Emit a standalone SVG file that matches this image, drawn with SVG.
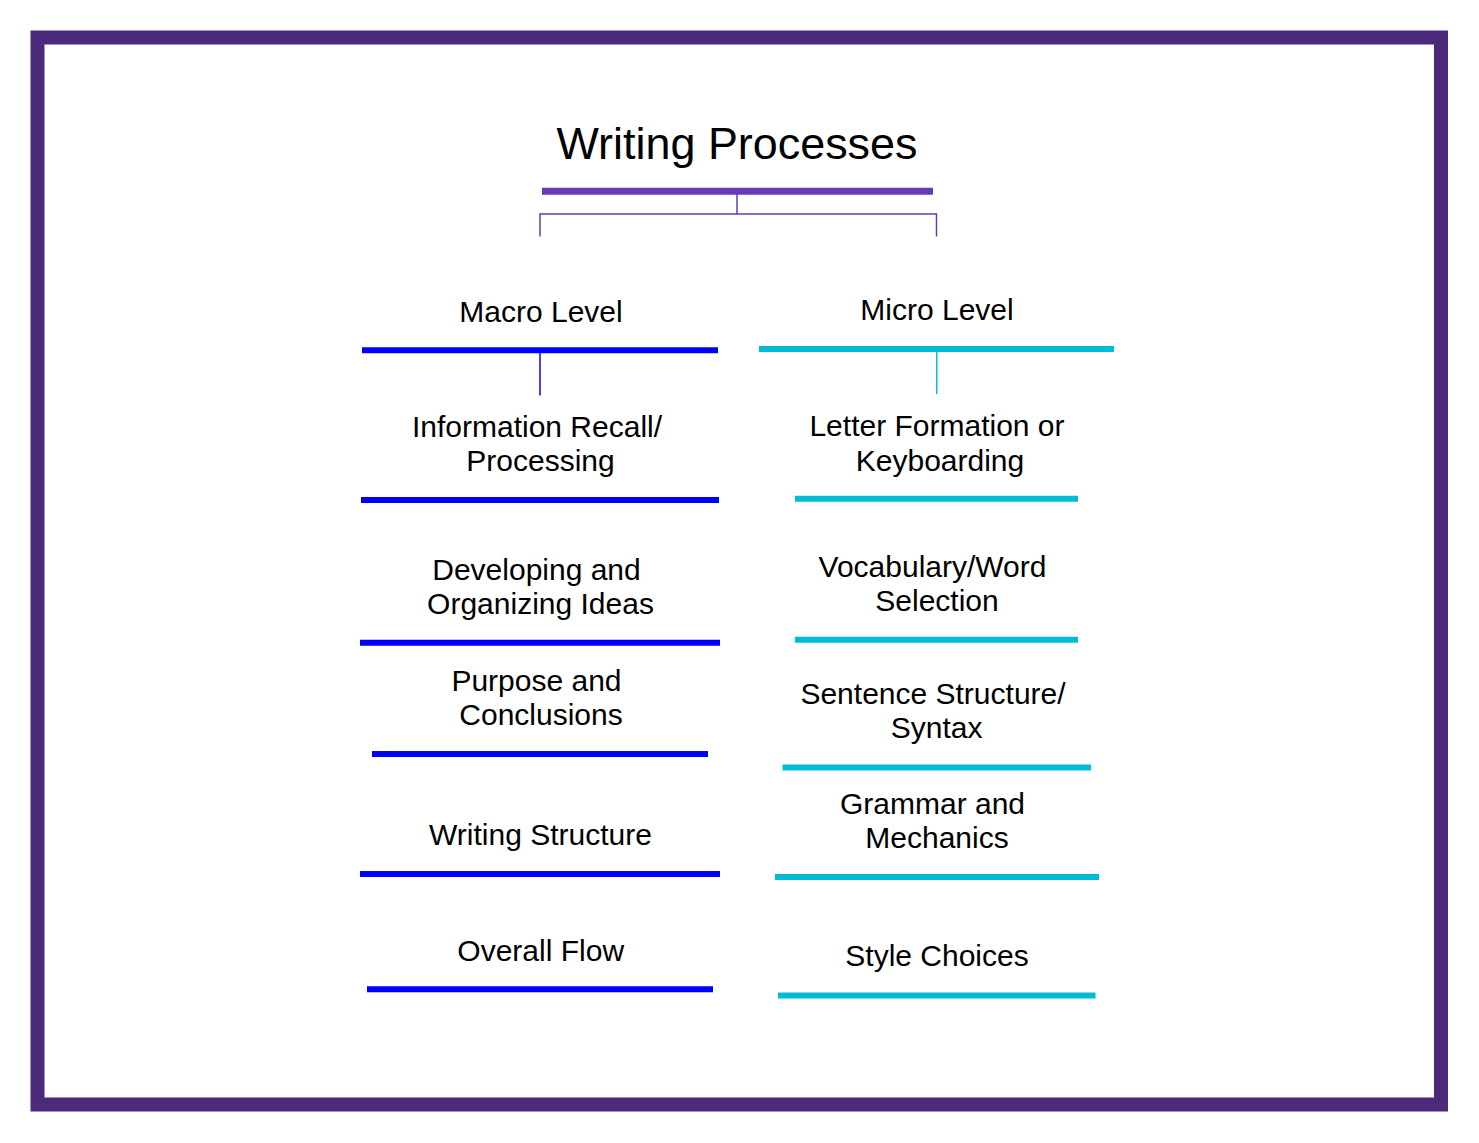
<svg xmlns="http://www.w3.org/2000/svg" width="1479" height="1143" viewBox="0 0 1479 1143">
<style>
text{font-family:"Liberation Sans",Arial,sans-serif;fill:#000;text-anchor:middle}
.t{font-size:30px}
.title{font-size:44.9px}
.bl{stroke:#0000FF;stroke-width:6}
.cy{stroke:#00BCD4;stroke-width:6}
.pu{stroke:#673AB7;stroke-width:7}
.conn line{fill:none}
</style>
<rect x="0" y="0" width="1479" height="1143" fill="#fff"/>
<rect x="37.5" y="37.5" width="1403.5" height="1067" fill="none" stroke="#4B2A7B" stroke-width="14"/>

<g id="title">
<text class="title" x="737" y="159">Writing Processes</text>
<line class="pu" x1="542" y1="191.3" x2="933" y2="191.3"/>
</g>

<g id="connectors" class="conn">
<line x1="737" y1="194" x2="737" y2="214" stroke="#673AB7" stroke-width="1.5"/>
<line x1="540" y1="214" x2="936.5" y2="214" stroke="#673AB7" stroke-width="1.5"/>
<line x1="540" y1="213.3" x2="540" y2="236.5" stroke="#673AB7" stroke-width="1.5"/>
<line x1="936.5" y1="213.3" x2="936.5" y2="236.5" stroke="#673AB7" stroke-width="1.5"/>
<line x1="540" y1="353" x2="540" y2="395.5" stroke="#0000FF" stroke-width="1.5"/>
<line x1="936.7" y1="352" x2="936.7" y2="394" stroke="#00BCD4" stroke-width="1.5"/>
</g>

<g id="macro">
<text class="t" x="541" y="322">Macro Level</text>
<line class="bl" x1="362" y1="350.3" x2="718" y2="350.3"/>
</g>
<g id="micro">
<text class="t" x="937" y="320">Micro Level</text>
<line class="cy" x1="759" y1="349" x2="1114" y2="349"/>
</g>

<g id="info-recall">
<text class="t" x="537" y="437">Information Recall/</text>
<text class="t" x="540.5" y="471">Processing</text>
<line class="bl" x1="361" y1="500" x2="719" y2="500"/>
</g>
<g id="developing">
<text class="t" x="536.5" y="580">Developing and</text>
<text class="t" x="540.5" y="614">Organizing Ideas</text>
<line class="bl" x1="360" y1="642.7" x2="720" y2="642.7"/>
</g>
<g id="purpose">
<text class="t" x="536.5" y="690.5">Purpose and</text>
<text class="t" x="541" y="724.5">Conclusions</text>
<line class="bl" x1="372" y1="754" x2="708" y2="754"/>
</g>
<g id="writing-structure">
<text class="t" x="540.5" y="845">Writing Structure</text>
<line class="bl" x1="360" y1="874" x2="720" y2="874"/>
</g>
<g id="overall-flow">
<text class="t" x="540.7" y="960.5">Overall Flow</text>
<line class="bl" x1="367" y1="989.3" x2="713" y2="989.3"/>
</g>

<g id="letter-formation">
<text class="t" x="937" y="436">Letter Formation or</text>
<text class="t" x="940" y="470.5">Keyboarding</text>
<line class="cy" x1="795" y1="498.8" x2="1078" y2="498.8"/>
</g>
<g id="vocabulary">
<text class="t" x="932.5" y="576.5">Vocabulary/Word</text>
<text class="t" x="937" y="611">Selection</text>
<line class="cy" x1="795" y1="639.7" x2="1078" y2="639.7"/>
</g>
<g id="sentence">
<text class="t" x="933" y="703.5">Sentence Structure/</text>
<text class="t" x="936.7" y="737.5">Syntax</text>
<line class="cy" x1="782.5" y1="767.5" x2="1091" y2="767.5"/>
</g>
<g id="grammar">
<text class="t" x="932.5" y="814">Grammar and</text>
<text class="t" x="937" y="848">Mechanics</text>
<line class="cy" x1="775" y1="877" x2="1099" y2="877"/>
</g>
<g id="style">
<text class="t" x="937" y="966">Style Choices</text>
<line class="cy" x1="778" y1="995.5" x2="1095.5" y2="995.5"/>
</g>
</svg>
